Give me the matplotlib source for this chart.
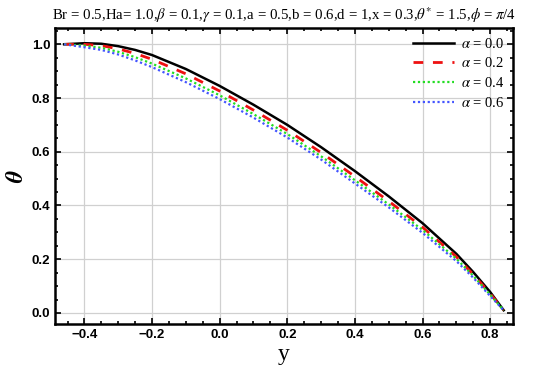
import matplotlib
matplotlib.use("Agg")
import matplotlib.pyplot as plt
from matplotlib.ticker import MultipleLocator

plt.rcParams['mathtext.fontset'] = 'stix'

# values
y = [-0.46, -0.4, -0.35, -0.3, -0.25, -0.2, -0.1, 0.0, 0.1, 0.2, 0.3, 0.4, 0.5, 0.6, 0.7, 0.75, 0.8, 0.84]
theta_a00 = [1.0, 1.004, 1.002, 0.993, 0.979, 0.96, 0.908, 0.845, 0.775, 0.70, 0.617, 0.528, 0.434, 0.334, 0.22, 0.152, 0.078, 0.01]
theta_a02 = [1.0, 1.0, 0.995, 0.983, 0.966, 0.944, 0.89, 0.826, 0.755, 0.68, 0.597, 0.508, 0.416, 0.319, 0.209, 0.143, 0.072, 0.01]
theta_a04 = [1.0, 0.995, 0.987, 0.972, 0.952, 0.928, 0.873, 0.81, 0.74, 0.666, 0.583, 0.494, 0.404, 0.309, 0.202, 0.138, 0.068, 0.01]
theta_a06 = [1.0, 0.989, 0.979, 0.962, 0.94, 0.915, 0.859, 0.796, 0.727, 0.653, 0.571, 0.482, 0.393, 0.298, 0.193, 0.131, 0.063, 0.01]
labels = [r'$\alpha$ = 0.0', r'$\alpha$ = 0.2', r'$\alpha$ = 0.4', r'$\alpha$ = 0.6']

fig = plt.figure(figsize=(5.5, 3.77), dpi=100)
ax = fig.add_axes([0.1, 0.14, 0.833, 0.786])

ax.plot(y, theta_a00, color='black', lw=1.8, label=labels[0])
ax.plot(y, theta_a02, color='#ee1111', lw=2.0, dashes=(3.5, 3.5), label=labels[1])
ax.plot(y, theta_a04, color='#22dd22', lw=1.6, ls=(0, (1, 1.2)), label=labels[2])
ax.plot(y, theta_a06, color='#4455ff', lw=1.6, ls=(0, (1, 1.2)), label=labels[3])

ax.set_xlim(-0.487, 0.868)
ax.set_ylim(-0.042, 1.061)
ax.xaxis.set_major_locator(MultipleLocator(0.2))
ax.xaxis.set_minor_locator(MultipleLocator(0.05))
ax.yaxis.set_major_locator(MultipleLocator(0.2))
ax.yaxis.set_minor_locator(MultipleLocator(0.05))
ax.grid(True, which='major', color='#d0d0d0', lw=0.9)

ax.tick_params(which='both', direction='in', top=True, right=True, width=1.2)
ax.tick_params(which='major', length=4)
ax.tick_params(which='minor', length=2.2)
for lab in ax.get_xticklabels() + ax.get_yticklabels():
    lab.set_fontweight('bold')
    lab.set_fontsize(9.5)
    lab.set_family('Liberation Sans')
for s in ax.spines.values():
    s.set_linewidth(1.8)

ax.set_xlabel('y', fontsize=17, family='Liberation Serif', labelpad=2)
ax.set_ylabel(r'$\boldsymbol{\theta}$', fontsize=17)
ax.yaxis.set_label_coords(-0.058, 0.5)
ax.set_title(r'Br = 0.5,Ha= 1.0,$\beta$ = 0.1,$\gamma$ = 0.1,a = 0.5,b = 0.6,d = 1,x = 0.3,$\theta^{*}$ = 1.5,$\phi$ = $\pi$/4',
             fontsize=10.75, family='Liberation Serif', pad=6)

leg = ax.legend(loc='upper right', frameon=False, handlelength=2.8, handletextpad=0.5,
                prop={'family': 'Liberation Serif', 'size': 10.5}, borderaxespad=0.2, labelspacing=0.4)

fig.savefig('out.png', dpi=100)
